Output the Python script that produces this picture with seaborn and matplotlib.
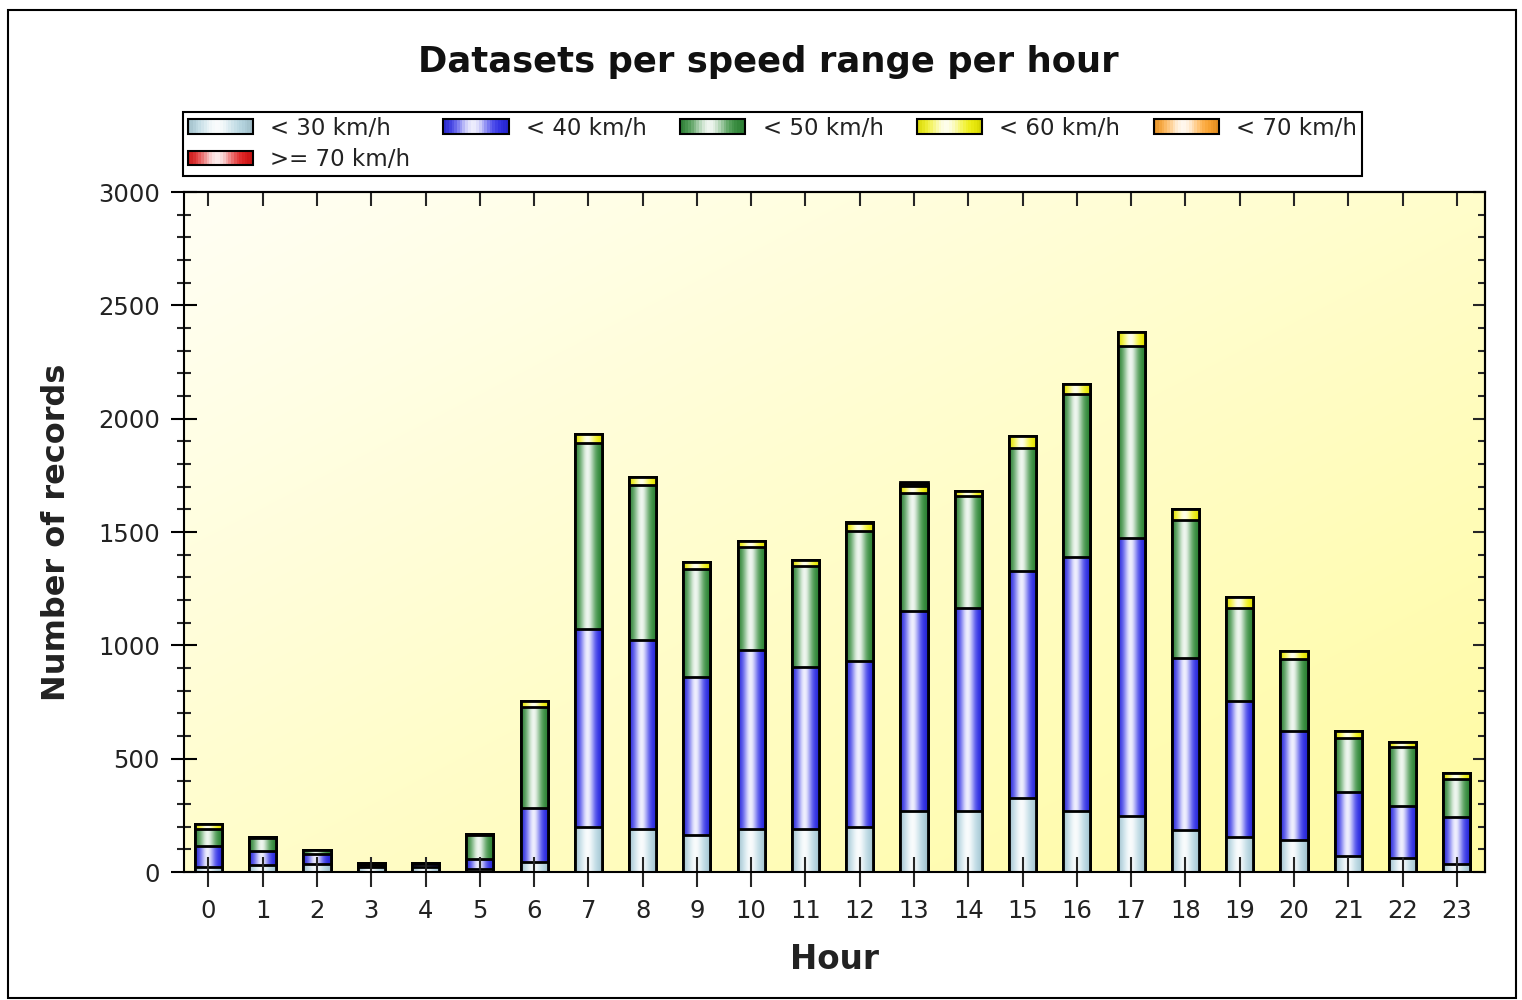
import numpy as np
import pandas as pd
import matplotlib
matplotlib.use("Agg")
import matplotlib.pyplot as plt
import matplotlib.colors as mcolors
import seaborn as sns
from matplotlib.patches import Rectangle
from matplotlib.legend_handler import HandlerBase
from matplotlib.ticker import MultipleLocator

# Valores (número de registros por faixa de velocidade e hora)
hours = [str(h) for h in range(24)]
lt30 = [20, 30, 35, 20, 20, 15, 45, 200, 188, 163, 188, 188, 200, 270, 270, 328, 269, 248, 187, 154, 139, 72, 60, 35]
lt40 = [95, 62, 45, 10, 15, 42, 237, 871, 836, 696, 791, 718, 732, 883, 893, 1001, 1122, 1226, 756, 600, 485, 281, 233, 209]
lt50 = [75, 60, 15, 5, 3, 108, 446, 823, 683, 479, 453, 445, 572, 517, 496, 540, 718, 848, 610, 410, 314, 236, 260, 166]
lt60 = [20, 3, 3, 3, 2, 3, 26, 38, 37, 28, 28, 25, 37, 33, 23, 55, 43, 59, 47, 49, 37, 34, 22, 28]
lt70 = [0, 0, 0, 2, 0, 0, 0, 0, 0, 0, 0, 0, 2, 9, 0, 0, 0, 0, 0, 0, 0, 0, 0, 0]
ge70 = [0, 0, 0, 1, 0, 0, 0, 0, 0, 0, 0, 0, 0, 7, 0, 0, 0, 0, 0, 0, 0, 0, 0, 0]

speed_labels = ["< 30 km/h", "< 40 km/h", "< 50 km/h", "< 60 km/h", "< 70 km/h", ">= 70 km/h"]
speed_colors = ["#b2d4e0", "#2828e8", "#2e8a36", "#f0f000", "#ffa024", "#e01414"]

W, H = 1522, 1000

sns.set_style("ticks")
plt.rcParams["font.family"] = ["DejaVu Sans"]


# Gradiente horizontal tipo "cilindro" (borda escura, centro claro)
def gradient_strip(color, n=64):
    rgb = np.array(mcolors.to_rgb(color))
    t = np.linspace(0, 1, n)
    mix = 0.92 * np.exp(-((t - 0.45) / 0.26) ** 2)
    shade = 1 - 0.12 * np.abs(2 * t - 1) ** 4
    cols = rgb[None, :] * shade[:, None] * (1 - mix[:, None]) + mix[:, None]
    return np.clip(cols, 0, 1)[None, :, :]


class GradientHandler(HandlerBase):
    def create_artists(self, legend, orig_handle, xdescent, ydescent,
                       width, height, fontsize, trans):
        strip = gradient_strip(orig_handle.get_facecolor(), 24)[0]
        n = len(strip)
        artists = []
        for i, c in enumerate(strip):
            artists.append(Rectangle((-xdescent + i * width / n, -ydescent), width / n + 0.4, height,
                                     facecolor=c, edgecolor="none", transform=trans))
        artists.append(Rectangle((-xdescent, -ydescent), width, height, facecolor="none",
                                 edgecolor="black", lw=1.5, transform=trans))
        return artists


fig = plt.figure(figsize=(W / 100, H / 100), dpi=100)
fig.patch.set_facecolor("white")
ax = fig.add_axes([184 / W, 128 / H, (1485 - 184) / W, (872 - 192) / H])

# Fundo amarelo em gradiente diagonal
gx, gy = np.meshgrid(np.linspace(0, 1, 200), np.linspace(0, 1, 200))
s = np.clip((gx + gy) / 2, 0, 1) ** 1.0
c0 = np.array([1.0, 1.0, 0.96])
c1 = np.array([1.0, 0.985, 0.63])
bg = c0[None, None, :] * (1 - s[..., None]) + c1[None, None, :] * s[..., None]
ax.imshow(bg, extent=[0, 1, 0, 1], transform=ax.transAxes, aspect="auto",
          interpolation="bilinear", zorder=0)

# Barras empilhadas: desenha do total até a faixa mais baixa
layers = np.array([lt30, lt40, lt50, lt60, lt70, ge70])
cum = np.cumsum(layers, axis=0)
for k in range(5, -1, -1):
    n_before = len(ax.patches)
    sns.barplot(x=hours, y=cum[k], order=hours, color=speed_colors[k], saturation=1,
                width=0.5, errorbar=None, edgecolor="black", linewidth=2.0, ax=ax)
    z = 3 + (5 - k)
    strip = gradient_strip(speed_colors[k])
    for p in ax.patches[n_before:]:
        x0, y0, w, h = p.get_x(), p.get_y(), p.get_width(), p.get_height()
        p.set_zorder(z + 0.5)
        if h <= 0:
            continue
        im = ax.imshow(strip, extent=[x0, x0 + w, y0, y0 + h], aspect="auto",
                       interpolation="bilinear", zorder=z)
        im.set_clip_path(p)
        p.set_facecolor("none")

ax.set_xlim(-0.45, 23.52)
ax.set_ylim(0, 3000)

# Eixos e ticks
ax.yaxis.set_major_locator(MultipleLocator(500))
ax.yaxis.set_minor_locator(MultipleLocator(100))
ax.tick_params(axis="y", which="major", direction="inout", length=19, width=1.5,
               labelsize=17.5, pad=8, colors="black", labelcolor="#222222")
ax.tick_params(axis="y", which="minor", direction="inout", length=9.5, width=1.5)
ax.tick_params(axis="x", which="major", direction="inout", length=21, width=1.5,
               labelsize=17.5, pad=9, labelcolor="#222222")
for sp in ax.spines.values():
    sp.set_visible(True)
    sp.set_linewidth(1.5)
    sp.set_color("black")
    sp.set_zorder(50)
ax.xaxis.set_zorder(40)
ax.yaxis.set_zorder(40)

sec_y = ax.secondary_yaxis("right")
sec_y.yaxis.set_major_locator(MultipleLocator(500))
sec_y.yaxis.set_minor_locator(MultipleLocator(100))
sec_y.tick_params(which="major", direction="in", length=9, width=1.5, labelright=False)
sec_y.tick_params(which="minor", direction="in", length=5, width=1.5)
sec_y.spines["right"].set_linewidth(1.5)
sec_y.set_zorder(45)

sec_x = ax.secondary_xaxis("top")
sec_x.set_xticks(range(24))
sec_x.tick_params(direction="in", length=10, width=1.5, labeltop=False)
sec_x.spines["top"].set_linewidth(1.5)
sec_x.set_zorder(45)

ax.set_xlabel("Hour", fontsize=23.5, fontweight="bold", color="#222222")
ax.set_ylabel("Number of records", fontsize=23, fontweight="bold", color="#222222")
ax.xaxis.set_label_coords(0.5, -0.104)
ax.yaxis.set_label_coords(-0.086, 0.5)

fig.text(768 / W, 1 - 62 / H, "Datasets per speed range per hour", ha="center", va="center",
         fontsize=25.5, fontweight="bold", color="#111111")

# Legenda (ordem ajustada para preencher por colunas como no original)
handles = [Rectangle((0, 0), 1, 1, facecolor=c) for c in speed_colors]
order = [0, 5, 1, 2, 3, 4]
leg = fig.legend([handles[i] for i in order], [speed_labels[i] for i in order],
                 handler_map={Rectangle: GradientHandler()}, ncol=5,
                 loc="upper left", bbox_to_anchor=(183 / W, 1 - 112 / H),
                 bbox_transform=fig.transFigure, borderaxespad=0, fontsize=16.5,
                 frameon=True, fancybox=False, framealpha=1, edgecolor="black",
                 handlelength=2.85, handleheight=0.6, handletextpad=0.75,
                 columnspacing=1.45, labelspacing=0.38, borderpad=0.2)
leg.get_frame().set_linewidth(1.5)
for t in leg.get_texts():
    t.set_color("#222222")

# Moldura em volta da figura
fig.add_artist(Rectangle((8 / W, 2 / H), (1516 - 8) / W, (998 - 10) / H, transform=fig.transFigure,
                         facecolor="none", edgecolor="black", linewidth=1.5))

fig.savefig("out.png", dpi=100)
plt.close(fig)
